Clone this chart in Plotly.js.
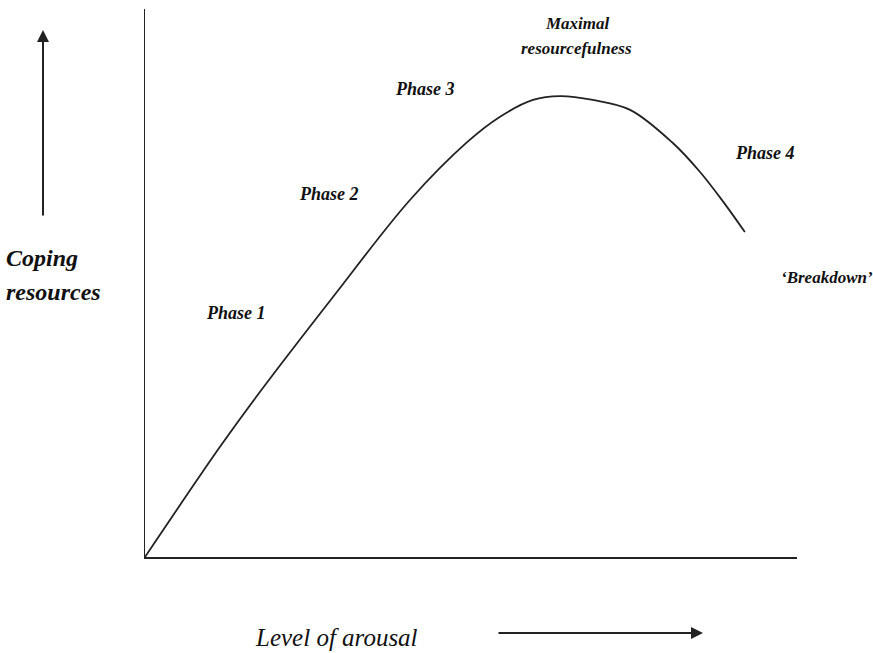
<!DOCTYPE html>
<html>
<head>
<meta charset="utf-8">
<script src="https://cdn.plot.ly/plotly-3.0.1.min.js"></script>
<style>html,body{margin:0;padding:0;background:#fff;}#chart{width:873px;height:653px;}</style>
</head>
<body>
<div id="chart"></div>
<script>
// Level of arousal (x) and coping resources (y)
var arousal = [0, 11.5, 17.3, 28.8, 40.6, 49.4, 54.4, 59.5, 63.7, 68.7, 74.4, 81.0, 85.1, 88.7, 92.0];
var coping  = [0, 20.1, 29.6, 47.4, 65.1, 75.7, 80.3, 83.4, 84.1, 83.4, 81.6, 75.5, 70.3, 64.8, 59.3];

var phaseLabels = ["Phase 1", "Phase 2", "Phase 3", "Phase 4"];
var peakLabel = ["Maximal", "resourcefulness"];
var breakdownLabel = "\u2018Breakdown\u2019";
var yTitle = ["Coping", "resources"];
var xTitle = "Level of arousal";

var W = 873, H = 653, L = 145, R = 76, T = 9, B = 96;
var pw = W - L - R, ph = H - T - B;
function px(x){ return (x - L) / pw; }
function py(y){ return (H - B - y) / ph; }

var serif = "Liberation Serif, Times New Roman, serif";
function lab(text, x, y, size, anchor){
  return {text: '<b><i>' + text + '</i></b>', xref: 'paper', yref: 'paper',
    x: px(x), y: py(y), xanchor: anchor || 'center', yanchor: 'middle',
    showarrow: false, font: {family: serif, size: size, color: '#111'}};
}

var annotations = [
  lab(phaseLabels[0], 236, 313, 18),
  lab(phaseLabels[1], 329, 194, 18),
  lab(phaseLabels[2], 425, 89, 18),
  lab(phaseLabels[3], 765, 153, 18),
  lab(peakLabel[0], 577, 23, 17),
  lab(peakLabel[1], 576, 48, 17),
  lab(breakdownLabel, 779, 277, 17, 'left'),
  lab(yTitle[0], 4, 258, 24, 'left'),
  lab(yTitle[1], 4, 292, 24, 'left'),
  {text: '<i>' + xTitle + '</i>', xref: 'paper', yref: 'paper', x: px(336), y: py(637),
   xanchor: 'center', yanchor: 'middle', showarrow: false,
   font: {family: serif, size: 25, color: '#111'}},
  // up arrow
  {text: '', xref: 'paper', yref: 'paper', x: px(43), y: py(30), ax: 0, ay: 187,
   axref: 'pixel', ayref: 'pixel', showarrow: true, arrowhead: 2, arrowsize: 1.2,
   arrowwidth: 2, arrowcolor: '#222', standoff: 0},
  // right arrow
  {text: '', xref: 'paper', yref: 'paper', x: px(703), y: py(633), ax: -206, ay: 0,
   axref: 'pixel', ayref: 'pixel', showarrow: true, arrowhead: 2, arrowsize: 1.2,
   arrowwidth: 2, arrowcolor: '#222', standoff: 0}
];

var trace = {
  x: arousal, y: coping, type: 'scatter', mode: 'lines',
  line: {shape: 'spline', smoothing: 1, color: '#222', width: 1.8},
  hoverinfo: 'skip', cliponaxis: false
};

var layout = {
  width: W, height: H,
  margin: {l: L, r: R, t: T, b: B, pad: 0},
  paper_bgcolor: '#fff', plot_bgcolor: '#fff',
  showlegend: false,
  xaxis: {range: [0, 100], showline: true, linecolor: '#222', linewidth: 1.5,
    showgrid: false, zeroline: false, showticklabels: false, ticks: '', fixedrange: true},
  yaxis: {range: [0, 100], showline: true, linecolor: '#222', linewidth: 1.5,
    showgrid: false, zeroline: false, showticklabels: false, ticks: '', fixedrange: true},
  annotations: annotations
};

Plotly.newPlot('chart', [trace], layout, {displayModeBar: false, staticPlot: true});
</script>
</body>
</html>
